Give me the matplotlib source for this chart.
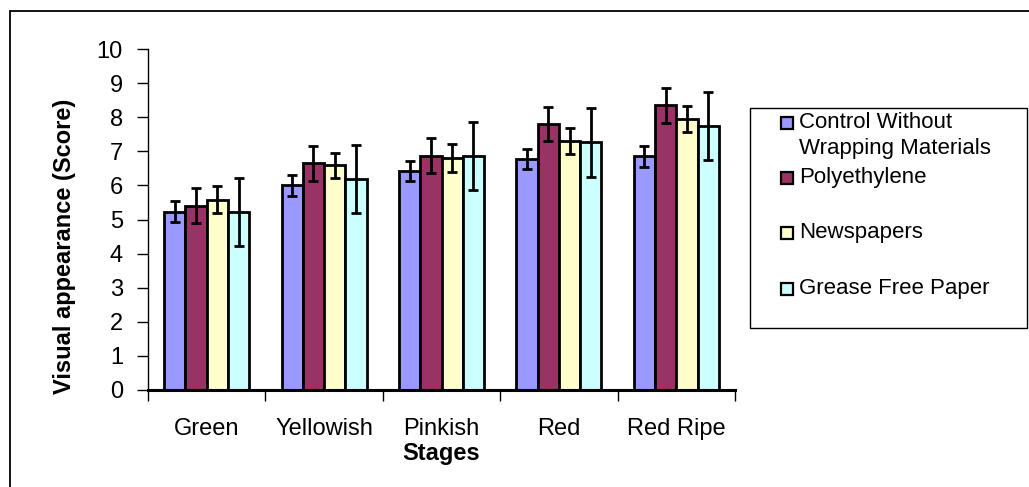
import numpy as np
import matplotlib
matplotlib.use("Agg")
import matplotlib.pyplot as plt
from matplotlib.patches import Rectangle

# ── Data ────────────────────────────────────────────────────────────────
stages = ["Green", "Yellowish", "Pinkish", "Red", "Red Ripe"]
series = ["Control Without\nWrapping Materials", "Polyethylene",
          "Newspapers", "Grease Free Paper"]

control      = [5.23, 6.00, 6.43, 6.77, 6.85]
polyethylene = [5.41, 6.65, 6.87, 7.79, 8.35]
newspapers   = [5.58, 6.59, 6.80, 7.29, 7.94]
grease_free  = [5.23, 6.19, 6.87, 7.26, 7.74]

control_err      = [0.30, 0.30, 0.29, 0.30, 0.30]
polyethylene_err = [0.50, 0.52, 0.52, 0.50, 0.51]
newspapers_err   = [0.39, 0.37, 0.40, 0.38, 0.38]
grease_free_err  = [1.00, 1.00, 1.00, 1.00, 1.00]

colors = ["#9999FF", "#993366", "#FFFFCC", "#CCFFFF"]

plt.rcParams["font.family"] = ["Liberation Sans", "DejaVu Sans"]

# ── Figure ──────────────────────────────────────────────────────────────
W, H = 1029, 487
fig = plt.figure(figsize=(W / 100, H / 100), dpi=100, facecolor="white")
ax = fig.add_axes([148 / W, 1 - 390 / H, (735 - 148) / W, (390 - 49) / H])

# outer frame (runs off the right/bottom edges)
fig.patches.append(Rectangle((10 / W, -0.1), 1.2, 1 - 11 / H + 0.1,
                             transform=fig.transFigure, fill=False,
                             edgecolor="black", linewidth=1.3))

values = [control, polyethylene, newspapers, grease_free]
errors = [control_err, polyethylene_err, newspapers_err, grease_free_err]

x = np.arange(len(stages))
bw = 0.181
for k, (vals, errs) in enumerate(zip(values, errors)):
    pos = x + (k - 1.5) * bw
    ax.bar(pos, vals, width=bw, color=colors[k], edgecolor="black",
           linewidth=2.0, zorder=2)
    ax.errorbar(pos, vals, yerr=errs, fmt="none", ecolor="black",
                elinewidth=2.0, capsize=3.8, capthick=2.0, zorder=3)

ax.set_xlim(-0.5, len(stages) - 0.5)
ax.set_ylim(0, 10)
ax.set_yticks(range(0, 11))
ax.set_xticks(np.arange(-0.5, len(stages), 1.0))
ax.set_xticklabels([])
ax.tick_params(axis="y", direction="out", length=8, width=1,
               labelsize=17, pad=10)
ax.tick_params(axis="x", direction="out", length=8, width=1)

# category labels centred between ticks
for i, s in enumerate(stages):
    ax.text(i, -1.15, s, ha="center", va="center", fontsize=17,
            clip_on=False)

for side in ["top", "right"]:
    ax.spines[side].set_visible(False)
ax.spines["bottom"].set_linewidth(2.2)
ax.spines["left"].set_linewidth(1)

ax.set_xlabel("Stages", fontsize=17, fontweight="bold", labelpad=26)
ax.set_ylabel("Visual appearance (Score)", fontsize=17, fontweight="bold")
ax.yaxis.set_label_coords(-0.123, 0.42)

# ── Legend box (drawn by hand to match the layout) ─────────────────────
fig.patches.append(Rectangle((750 / W, 1 - 328 / H), 277 / W, 220 / H,
                             transform=fig.transFigure, fill=False,
                             edgecolor="black", linewidth=1))
leg_y = [123, 178, 233, 289]
for k, lab in enumerate(series):
    yy = 1 - leg_y[k] / H
    fig.patches.append(Rectangle((781 / W, yy - 6 / H), 12 / W, 12 / H,
                                 transform=fig.transFigure,
                                 facecolor=colors[k], edgecolor="black",
                                 linewidth=1.6))
    fig.text(799 / W, yy + 11 / H, lab, ha="left", va="top", fontsize=16,
             linespacing=1.3)

fig.savefig("out.png", dpi=100)
